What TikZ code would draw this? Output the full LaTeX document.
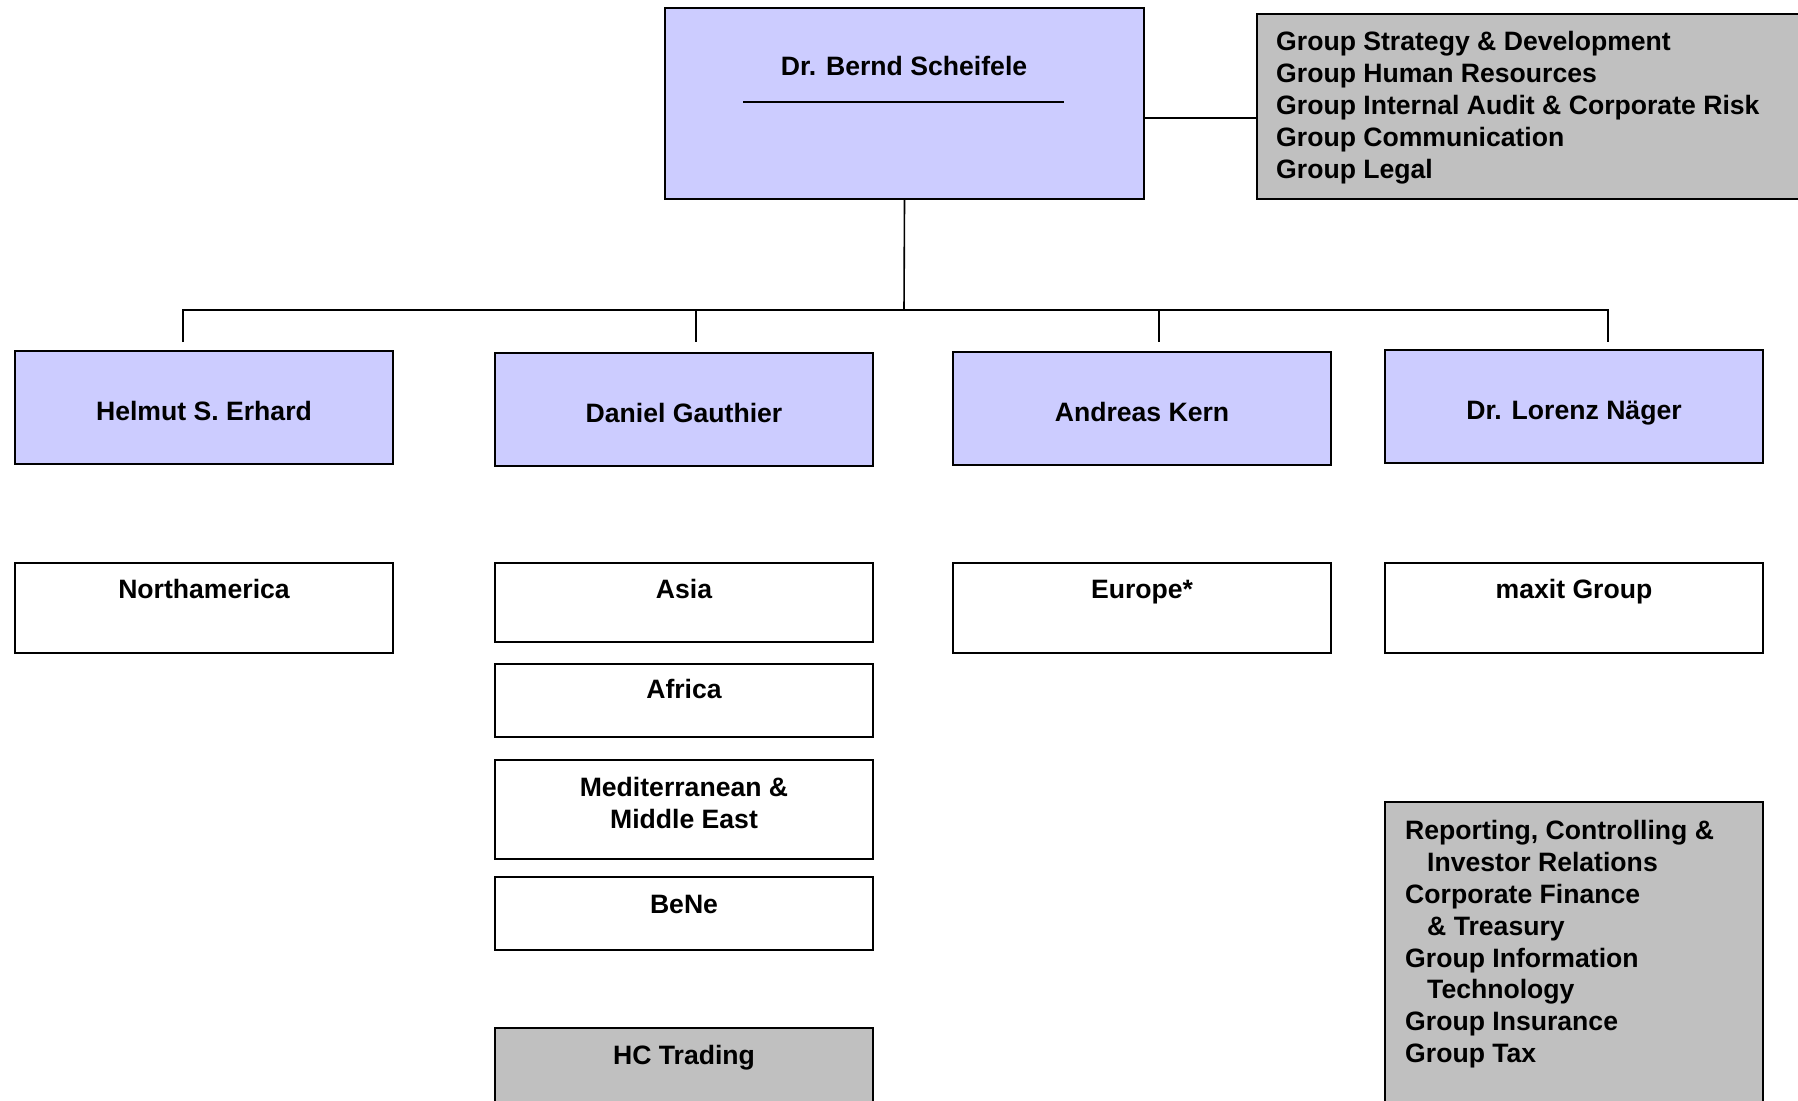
\documentclass[tikz,border=0pt]{standalone}
\usepackage{fontspec}
\setmainfont{Liberation Sans}
\definecolor{lav}{HTML}{CCCCFF}
\definecolor{grayfill}{HTML}{C0C0C0}
\tikzset{
  box/.style={draw=black, line width=2bp, rectangle, inner sep=0pt, anchor=north west},
  headbox/.style={box, fill=lav, minimum width=378bp, minimum height=113bp,
    text height=25bp, text depth=0pt,
    font=\bfseries\fontsize{26.7}{32}\selectfont},
  unitbox/.style={box, fill=white, minimum width=378bp},
  staffbox/.style={box, fill=grayfill},
  lbl/.style={inner sep=0pt, font=\bfseries\fontsize{26.7}{32}\selectfont},
  conn/.style={draw=black, line width=1.6bp},
}
\begin{document}
\begin{tikzpicture}[x=1bp,y=-1bp]
\useasboundingbox (0,0) rectangle (1798,1100);
\clip (0,0) rectangle (1798,1100);

% CEO
\node[box, fill=lav, minimum width=479bp, minimum height=191bp] (ceo) at (664,7) {};
\node[lbl] (ceoT) at (904,66) {Dr. Bernd Scheifele};
\draw[line width=1.6bp] (743,102) -- (1064,102);

% central staff functions
\node[staffbox, minimum width=560bp, minimum height=185bp] (staff) at (1256,13) {};
\node[lbl, align=left, anchor=north west] (staffT) at (1276,31)
  {Group Strategy \& Development\\Group Human Resources\\Group Internal Audit \& Corporate Risk\\Group Communication\\Group Legal};
\coordinate (link) at (1200,118);
\draw[conn] (ceo.east|-link) -- (staff.west|-link);

% board members
\node[headbox] (erhard) at (14,350) {Helmut S. Erhard};
\node[headbox] (gauthier) at (494,352) {Daniel Gauthier};
\node[headbox] (kern) at (952,351) {Andreas Kern};
\node[headbox] (naeger) at (1384,349) {Dr. Lorenz Näger};

% connectors
\coordinate (busC) at (904,310);
\coordinate (dA) at (183,342);
\coordinate (dB) at (696,342);
\coordinate (dC) at (1159,342);
\coordinate (dD) at (1608,342);
\draw[conn] (ceo.south) -- (busC);
\draw[conn] (dA) -- (dA|-busC) -- (dD|-busC) -- (dD);
\draw[conn] (dB|-busC) -- (dB);
\draw[conn] (dC|-busC) -- (dC);

% units
\node[unitbox, minimum height=90bp] (north) at (14,562) {};
\node[lbl, anchor=base] (northT) at ([yshift=-36bp]north.north) {Northamerica};

\node[unitbox, minimum height=79bp] (asia) at (494,562) {};
\node[lbl, anchor=base] (asiaT) at ([yshift=-36bp]asia.north) {Asia};

\node[unitbox, minimum height=73bp] (africa) at (494,663) {};
\node[lbl, anchor=base] (africaT) at ([yshift=-35bp]africa.north) {Africa};

\node[unitbox, minimum height=99bp] (med) at (494,759) {};
\node[lbl, align=center, anchor=north] (medT) at ([yshift=-18bp]med.north) {Mediterranean \&\\Middle East};

\node[unitbox, minimum height=73bp] (bene) at (494,876) {};
\node[lbl, anchor=base] (beneT) at ([yshift=-37bp]bene.north) {BeNe};

\node[staffbox, minimum width=378bp, minimum height=100bp] (hc) at (494,1027) {};
\node[lbl, anchor=base] (hcT) at ([yshift=-37bp]hc.north) {HC Trading};

\node[unitbox, minimum height=90bp] (europe) at (952,562) {};
\node[lbl, anchor=base] (europeT) at ([yshift=-36bp]europe.north) {Europe*};

\node[unitbox, minimum height=90bp] (maxit) at (1384,562) {};
\node[lbl, anchor=base] (maxitT) at ([yshift=-36bp]maxit.north) {maxit Group};

% finance staff functions
\node[staffbox, minimum width=378bp, minimum height=320bp] (fin) at (1384,801) {};
\node[lbl, align=left, anchor=north west] (finT) at (1405,820)
  {Reporting, Controlling \&\\\hspace*{22bp}Investor Relations\\Corporate Finance\\\hspace*{22bp}\& Treasury\\Group Information\\\hspace*{22bp}Technology\\Group Insurance\\Group Tax};
\end{tikzpicture}
\end{document}
